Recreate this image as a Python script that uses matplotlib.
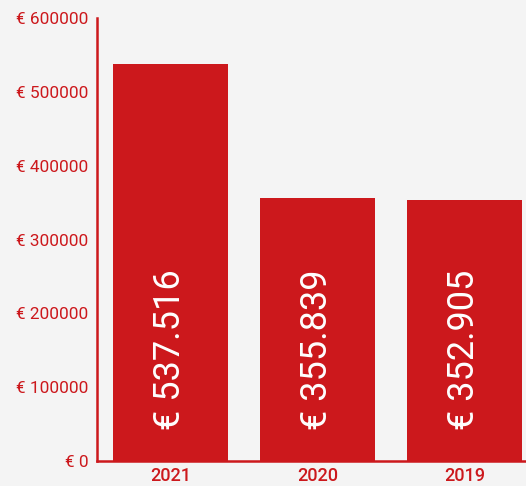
import matplotlib
matplotlib.use("Agg")
import matplotlib.pyplot as plt
from matplotlib.ticker import FuncFormatter

years = ["2021", "2020", "2019"]
values = [537516, 355839, 352905]
value_labels = ["€ 537.516", "€ 355.839", "€ 352.905"]
yticks = [0, 100000, 200000, 300000, 400000, 500000, 600000]

RED = "#cc181c"
BG = "#f4f4f4"

plt.rcParams['font.family'] = ['Roboto', 'DejaVu Sans']

fig = plt.figure(figsize=(5.26, 4.86), dpi=100)
fig.patch.set_facecolor(BG)
ax = fig.add_axes([0.1844, 0.0514, 0.838, 0.9115])
ax.set_facecolor(BG)

x = range(len(years))
ax.bar(x, values, width=0.78, color=RED, zorder=2)

# value labels written vertically inside the bars
for xi, lab in zip(x, value_labels):
    ax.text(xi, 42000, lab, rotation=90, ha='center', va='bottom',
            color='white', fontsize=26, zorder=3)

ax.set_xlim(-0.5, 2.5)
ax.set_ylim(0, 600000)
ax.set_xticks(list(x))
ax.set_xticklabels(years, fontsize=13, fontweight='medium')
ax.set_yticks(yticks)
ax.yaxis.set_major_formatter(FuncFormatter(lambda v, p: f"€ {int(v)}"))
ax.tick_params(axis='both', length=0, colors=RED)
ax.tick_params(axis='y', labelsize=12.4, pad=6)
ax.tick_params(axis='x', pad=4)

for s in ['top', 'right']:
    ax.spines[s].set_visible(False)
for s in ['left', 'bottom']:
    ax.spines[s].set_color(RED)
    ax.spines[s].set_linewidth(1.8)

fig.savefig("out.png", dpi=100, facecolor=BG)
